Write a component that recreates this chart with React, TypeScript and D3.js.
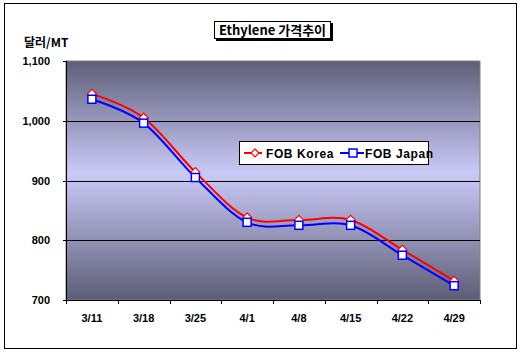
import React from "react";
import * as d3 from "d3";

const categories = ["3/11", "3/18", "3/25", "4/1", "4/8", "4/15", "4/22", "4/29"];
const korea = [1045, 1005, 914, 838, 834, 834, 784, 732];
const japan = [1036, 996, 905, 830, 825, 825, 775, 724];
const yTicks = [700, 800, 900, 1000, 1100];
const seriesNames = ["FOB Korea", "FOB Japan"];
const titleText = "Ethylene 가격추이";
const unitLabel = "달러/MT";

const W = 521, H = 357;
const plot = { left: 66, right: 480, top: 61, bottom: 300 };

export default function App() {
  const x = d3.scaleBand().domain(categories).range([plot.left, plot.right]);
  const y = d3.scaleLinear().domain([700, 1100]).range([plot.bottom, plot.top]);
  const cx = (c: string) => (x(c) as number) + x.bandwidth() / 2;
  const line = d3
    .line<number>()
    .x((_, i) => cx(categories[i]))
    .y((d) => y(d))
    .curve(d3.curveCatmullRom.alpha(0));
  const font = "'Liberation Sans', Arial, sans-serif";
  const kfont = "'Noto Sans CJK KR', 'Liberation Sans', sans-serif";
  const diamond = (px: number, py: number, r: number) =>
    `M${px},${py - r}L${px + r},${py}L${px},${py + r}L${px - r},${py}Z`;
  return (
    <svg
      width={W}
      height={H}
      style={{ position: "absolute", left: 0, top: 0, background: "#fff" }}
    >
      <defs>
        <linearGradient id="bg" x1="0" y1="0" x2="0" y2="1">
          <stop offset="0" stopColor="#5f5f79" />
          <stop offset="0.47" stopColor="#cacaf8" />
          <stop offset="1" stopColor="#5d5d76" />
        </linearGradient>
      </defs>
      <rect x={4.5} y={3.5} width={512} height={345} fill="#fff" stroke="#000" strokeWidth={1} />
      {/* plot area */}
      <rect
        x={plot.left}
        y={plot.top}
        width={plot.right - plot.left}
        height={plot.bottom - plot.top}
        fill="url(#bg)"
        stroke="#808080"
        strokeWidth={1}
      />
      {yTicks.slice(1, -1).map((t) => (
        <line key={t} x1={plot.left} x2={plot.right} y1={Math.round(y(t)) + 0.5} y2={Math.round(y(t)) + 0.5} stroke="#000" />
      ))}
      <line x1={plot.left + 0.5} x2={plot.left + 0.5} y1={plot.top} y2={plot.bottom} stroke="#000" />
      <line x1={plot.left} x2={plot.right + 1} y1={plot.bottom + 0.5} y2={plot.bottom + 0.5} stroke="#000" />
      {yTicks.map((t) => (
        <line key={"yt" + t} x1={plot.left - 3} x2={plot.left} y1={Math.round(y(t)) + 0.5} y2={Math.round(y(t)) + 0.5} stroke="#000" />
      ))}
      {categories.concat(["end"]).map((c, i) => {
        const xx = Math.round(plot.left + i * x.bandwidth()) + 0.5;
        return <line key={"xt" + i} x1={xx} x2={xx} y1={plot.bottom} y2={plot.bottom + 4} stroke="#000" />;
      })}
      {yTicks.map((t) => (
        <text key={"yl" + t} x={50} y={y(t) + 4} textAnchor="end" fontFamily={font} fontWeight="bold" fontSize={11}>
          {d3.format(",")(t)}
        </text>
      ))}
      {categories.map((c) => (
        <text key={"xl" + c} x={cx(c)} y={322} textAnchor="middle" fontFamily={font} fontWeight="bold" fontSize={11}>
          {c}
        </text>
      ))}
      <text x={24} y={47} fontFamily={kfont} fontWeight="bold" fontSize={12}>
        {unitLabel}
      </text>
      {/* title */}
      <rect x={216} y={23} width={117} height={18} fill="#000" />
      <rect x={214.5} y={21.5} width={116} height={17} fill="#fff" stroke="#000" />
      <text x={272.5} y={34.5} textAnchor="middle" fontFamily={kfont} fontWeight="bold" fontSize={13}>
        {titleText}
      </text>
      {/* series */}
      <path d={line(korea) || ""} fill="none" stroke="#ff0000" strokeWidth={2} />
      <path d={line(japan) || ""} fill="none" stroke="#0000ff" strokeWidth={2} />
      {korea.map((v, i) => (
        <path key={"km" + i} d={diamond(cx(categories[i]), y(v), 4.5)} fill="#fff" stroke="#ff0000" strokeWidth={1.2} />
      ))}
      {japan.map((v, i) => (
        <rect key={"jm" + i} x={cx(categories[i]) - 4} y={y(v) - 4} width={8} height={8} fill="#fff" stroke="#0000ff" strokeWidth={1.5} />
      ))}
      {/* legend */}
      <rect x={239.5} y={141.5} width={189} height={23} fill="#fff" stroke="#000" />
      <line x1={244} x2={262} y1={153} y2={153} stroke="#ff0000" strokeWidth={2} />
      <path d={diamond(255, 153, 4)} fill="#fff" stroke="#ff0000" strokeWidth={1.2} />
      <text x={266} y={157.5} fontFamily={font} fontWeight="bold" fontSize={12} letterSpacing={0.6}>
        {seriesNames[0]}
      </text>
      <line x1={340} x2={364} y1={153} y2={153} stroke="#0000ff" strokeWidth={2} />
      <rect x={349} y={149} width={8} height={8} fill="#fff" stroke="#0000ff" strokeWidth={1.5} />
      <text x={365} y={157.5} fontFamily={font} fontWeight="bold" fontSize={12} letterSpacing={0.6}>
        {seriesNames[1]}
      </text>
    </svg>
  );
}
